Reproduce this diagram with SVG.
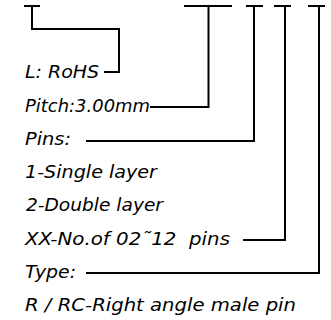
<svg xmlns="http://www.w3.org/2000/svg" width="331" height="320" viewBox="0 0 331 320">
<style>
.t{font-family:"DejaVu Sans","Liberation Sans",sans-serif;font-style:italic;font-size:18px;fill:#000}
.c{fill:none;stroke:#000;stroke-width:2;stroke-linecap:butt;stroke-linejoin:miter}
</style>
<rect width="331" height="320" fill="#fff"/>
<g id="connectors">
<path class="c" d="M24 6H40M32 6V29H119V72H104"/>
<path class="c" d="M184 6H232M208.5 6V107H150"/>
<path class="c" d="M246 6H263M254 6V141H86"/>
<path class="c" d="M274 6H291M285 6V240H243"/>
<path class="c" d="M308 6H325M319 6V273H86"/>
</g>
<g id="label-rohs"><text class="t" x="25" y="78" textLength="74" lengthAdjust="spacingAndGlyphs">L: RoHS</text></g>
<g id="label-pitch"><text class="t" x="25" y="112" textLength="125" lengthAdjust="spacingAndGlyphs">Pitch:3.00mm</text></g>
<g id="label-pins"><text class="t" x="25" y="145" textLength="46" lengthAdjust="spacingAndGlyphs">Pins:</text></g>
<g id="label-single"><text class="t" x="25" y="178" textLength="132" lengthAdjust="spacingAndGlyphs">1-Single layer</text></g>
<g id="label-double"><text class="t" x="26" y="211" textLength="137" lengthAdjust="spacingAndGlyphs">2-Double layer</text></g>
<g id="label-xx"><text class="t" x="25" y="245" textLength="205" lengthAdjust="spacingAndGlyphs" xml:space="preserve">XX-No.of 02˜12  pins</text></g>
<g id="label-type"><text class="t" x="25" y="278" textLength="51" lengthAdjust="spacingAndGlyphs">Type:</text></g>
<g id="label-r"><text class="t" x="25" y="311" textLength="271" lengthAdjust="spacingAndGlyphs">R / RC-Right angle male pin</text></g>
</svg>
